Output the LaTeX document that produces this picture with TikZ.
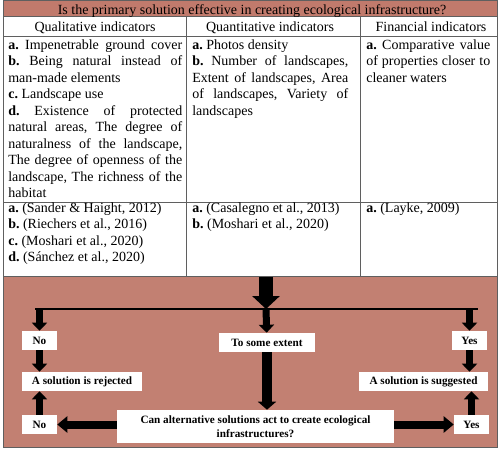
\documentclass[tikz,border=0pt]{standalone}
\usepackage{fontspec}
\setmainfont{Liberation Serif}
\usetikzlibrary{arrows.meta,positioning}

\definecolor{headred}{RGB}{193,122,108}
\definecolor{flowred}{RGB}{194,128,114}
\definecolor{rulegray}{RGB}{95,95,95}
\newcommand{\cellfont}{\fontsize{14}{16.5}\selectfont}
\newcommand{\boxfont}{\fontsize{11.2}{14}\selectfont\bfseries}
\hyphenpenalty=10000
\tolerance=10000
\frenchspacing

\begin{document}
\begin{tikzpicture}[x=1pt,y=-1pt,
    every node/.style={inner sep=0pt},
    semithick]
    \tikzstyle{cell}=[anchor=base west,font=\cellfont,align=justify]
    \tikzstyle{head}=[anchor=base,font=\cellfont]
    \tikzstyle{box}=[fill=white,font=\boxfont,minimum height=19pt,align=center]
    \tikzstyle{bigarrow}=[-{Triangle[width=27pt,length=13pt]},line width=14pt]
    \tikzstyle{midarrow}=[-{Triangle[width=18pt,length=8pt]},line width=10pt]
    \tikzstyle{smallarrow}=[-{Triangle[width=15pt,length=8pt]},line width=7pt]
    \tikzstyle{sidearrow}=[-{Triangle[width=16pt,length=10pt]},line width=8pt]

    \useasboundingbox (0,0) rectangle (500,449);

    % table
    \fill[headred] (3,0.5) rectangle (497,17);
    \fill[flowred] (3,276) rectangle (497,447.5);
    \draw[rulegray,line width=1pt] (3,0.5) rectangle (497,447.5);
    \draw[rulegray,line width=1pt] (3,17) -- (497,17) (3,37) -- (497,37)
    (3,202) -- (497,202) (3,276) -- (497,276)
    (186,17) -- (186,276) (360,17) -- (360,276);

    \node[head] (title) at (252,14.5)
    {Is the primary solution effective in creating ecological infrastructure?};
    \node[head] (qual) at (95,32) {Qualitative indicators};
    \node[head] (quan) at (270,32) {Quantitative indicators};
    \node[head] (fin)  at (431,32) {Financial indicators};

    \node[cell,text width=174pt] (qualA) at (8,49.5)
    {\textbf{a.} Impenetrable ground cover\linebreak
      \textbf{b.} Being natural instead of man-made elements\par
      \textbf{c.} Landscape use\par
      \textbf{d.} Existence of protected natural areas, The degree of
      naturalness of the landscape, The degree of openness of the
      landscape, The richness of the habitat};
    \node[cell,text width=156pt] (quanA) at (192,49.5)
    {\textbf{a.} Photos density\par
      \textbf{b.} Number of landscapes, Extent of landscapes, Area of
      landscapes, Variety of landscapes};
    \node[cell,text width=124pt] (finA) at (366,49.5)
    {\textbf{a.} Comparative value of properties closer to cleaner waters};

    \node[cell,text width=174pt] (qualR) at (8,212)
    {\textbf{a.} (Sander \& Haight, 2012)\par
      \textbf{b.} (Riechers et al., 2016)\par
      \textbf{c.} (Moshari et al., 2020)\par
      \textbf{d.} (Sánchez et al., 2020)};
    \node[cell,text width=156pt] (quanR) at (192,212)
    {\textbf{a.} (Casalegno et al., 2013)\par
      \textbf{b.} (Moshari et al., 2020)};
    \node[cell,text width=124pt] (finR) at (366,212)
    {\textbf{a.} (Layke, 2009)};

    % flow
    \coordinate (top) at (266,276.5);
    \coordinate (hl) at (35,309);
    \coordinate (hr) at (478,309);

    \node[box,minimum width=35pt]  (noA)  at (39.5,340.5) {No};
    \node[box,minimum width=96pt]  (some) at (267,342.5) {To some extent};
    \node[box,minimum width=35pt]  (yesA) at (469.5,340.5) {Yes};
    \node[box,minimum width=120pt] (rej)  at (82,381.5) {A solution is rejected};
    \node[box,minimum width=129pt] (sug)  at (423.5,381.5) {A solution is suggested};
    \node[box,minimum width=277pt,minimum height=33pt] (alt) at (255.5,426.5)
    {Can alternative solutions act to create ecological\\infrastructures?};
    \node[box,minimum width=35pt]  (noB)  at (39.5,424.5) {No};
    \node[box,minimum width=35pt]  (yesB) at (471.5,424.5) {Yes};

    \draw[line width=1.5pt] (hl) -- (hr);
    \draw[bigarrow] (top) -- (top |- hl);

    \path[smallarrow] (noA |- hl) edge (noA)
    (top |- hl) edge (some)
    (yesA |- hl) edge (yesA)
    (noA) edge (noA |- rej.north)
    (yesA) edge (yesA |- sug.north)
    (noB) edge (noB |- rej.south)
    (yesB) edge (yesB |- sug.south);
    \path[midarrow] (some) edge (some |- alt.north);
    \path[sidearrow] (alt.west |- noB) edge (noB)
    (alt.east |- yesB) edge (yesB);
\end{tikzpicture}
\end{document}
